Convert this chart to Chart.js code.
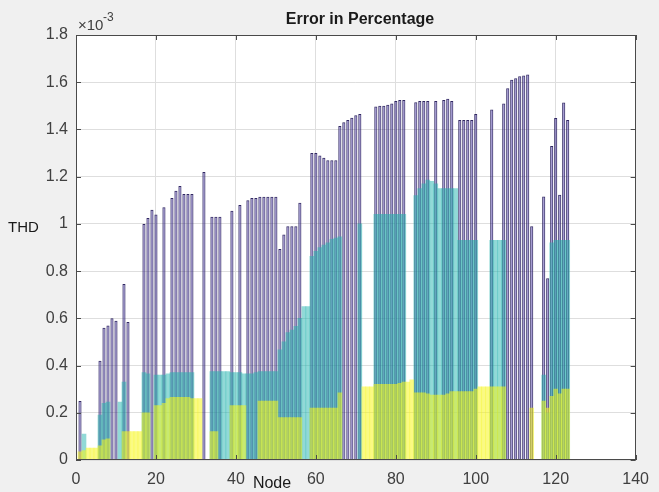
<!DOCTYPE html>
<html lang="en">
<head>
<meta charset="UTF-8">
<title>Error in Percentage</title>
<script src="https://cdn.jsdelivr.net/npm/chart.js"></script>
<style>
  html, body { margin: 0; padding: 0; background: #f0f0f0; }
  canvas { display: block; }
</style>
</head>
<body>
<canvas id="grafico" width="659" height="492"></canvas>
<script>
    // THD values per node, x 1e-3 (0 = no bar for that phase)
    var purple = [
        0.25, 0, 0, 0, 0, 0.42, 0.56, 0.57, 0.60, 0.59,
        0, 0.745, 0.585, 0, 0, 0, 1.00, 1.025, 1.06, 1.04,
        0, 1.07, 0, 1.11, 1.14, 1.16, 1.127, 1.127, 1.127, 0,
        0, 1.22, 0, 1.03, 1.03, 1.03, 0, 0, 1.056, 0,
        1.08, 0, 1.10, 1.11, 1.11, 1.115, 1.115, 1.115, 1.115, 1.115,
        0.894, 0.955, 0.99, 0.99, 0.99, 1.09, 0, 0, 1.30, 1.30,
        1.29, 1.28, 1.27, 1.27, 1.27, 1.415, 1.43, 1.44, 1.45, 1.46,
        1.465, 0, 0, 0, 1.497, 1.50, 1.50, 1.505, 1.51, 1.52,
        1.525, 1.525, 0, 0, 1.515, 1.52, 1.52, 1.52, 0, 1.52,
        0, 1.525, 1.53, 1.52, 0, 1.44, 1.44, 1.44, 1.44, 1.465,
        0, 0, 0, 1.485, 0, 0, 1.51, 1.575, 1.61, 1.617,
        1.625, 1.628, 1.633, 0.99, 0, 0, 1.116, 0.77, 1.33, 1.448,
        1.123, 1.514, 1.44
    ];
    var teal = [
        0, 0.11, 0, 0, 0, 0.19, 0.24, 0.245, 0, 0,
        0.245, 0.33, 0, 0, 0, 0, 0.37, 0.365, 0, 0.36,
        0.36, 0.36, 0.365, 0.37, 0.37, 0.37, 0.37, 0.37, 0.37, 0,
        0, 0, 0, 0.375, 0.375, 0.375, 0.375, 0.375, 0.37, 0.37,
        0.37, 0.365, 0.365, 0.365, 0.37, 0.375, 0.375, 0.375, 0.375, 0.375,
        0.467, 0.50, 0.54, 0.55, 0.566, 0.60, 0.65, 0.65, 0.863, 0.884,
        0.90, 0.91, 0.92, 0.935, 0.94, 0.945, 0, 0, 0, 0,
        1.00, 0, 0, 0, 1.04, 1.04, 1.04, 1.04, 1.04, 1.04,
        1.04, 1.04, 0, 0, 1.12, 1.15, 1.17, 1.186, 1.18, 1.17,
        1.15, 1.15, 1.15, 1.15, 1.15, 0.93, 0.93, 0.93, 0.93, 0.93,
        0, 0, 0, 0.93, 0.93, 0.93, 0.93, 0, 0, 0,
        0, 0, 0, 0, 0, 0, 0.36, 0.20, 0.92, 0.93,
        0.93, 0.93, 0.93
    ];
    var yellow = [
        0.035, 0.04, 0.05, 0.05, 0.05, 0.06, 0.085, 0.09, 0, 0,
        0, 0.12, 0.12, 0.12, 0.12, 0.12, 0.20, 0.20, 0, 0.23,
        0.23, 0.24, 0.26, 0.265, 0.265, 0.265, 0.265, 0.265, 0.26, 0.26,
        0.26, 0, 0, 0.12, 0.12, 0, 0, 0, 0.23, 0.23,
        0.23, 0.23, 0, 0, 0, 0.25, 0.25, 0.25, 0.25, 0.25,
        0.18, 0.18, 0.18, 0.18, 0.18, 0.18, 0, 0, 0.22, 0.22,
        0.22, 0.22, 0.22, 0.22, 0.22, 0.285, 0, 0, 0, 0,
        0, 0.31, 0.31, 0.31, 0.32, 0.32, 0.32, 0.32, 0.32, 0.32,
        0.325, 0.33, 0.33, 0.34, 0.285, 0.285, 0.285, 0.28, 0.275, 0.275,
        0.275, 0.275, 0.28, 0.29, 0.29, 0.29, 0.29, 0.29, 0.29, 0.30,
        0.31, 0.31, 0.31, 0.31, 0.31, 0.31, 0.31, 0, 0, 0,
        0, 0, 0, 0.22, 0, 0, 0.25, 0.22, 0.27, 0.30,
        0.28, 0.30, 0.30
    ];
    var nodes = purple.map(function (v, i) { return i + 1; });
    var xTicks = [0, 20, 40, 60, 80, 100, 120, 140];
    var yTicks = [0, 0.2, 0.4, 0.6, 0.8, 1, 1.2, 1.4, 1.6, 1.8];

    var fonte = '"Liberation Sans", Arial, sans-serif';

    function pontos(serie) {
        return serie.map(function (v, i) {
            return { x: nodes[i], y: v > 0 ? v : null };
        });
    }

    // white plot area, box, inward ticks and the MATLAB-style labels
    var moldura = {
        id: 'moldura',
        beforeDraw: function (chart) {
            var ctx = chart.ctx, a = chart.chartArea;
            ctx.save();
            ctx.fillStyle = '#ffffff';
            ctx.fillRect(a.left, a.top, a.right - a.left, a.bottom - a.top);
            ctx.restore();
        },
        afterDraw: function (chart) {
            var ctx = chart.ctx, a = chart.chartArea;
            var sx = chart.scales.x, sy = chart.scales.y;
            ctx.save();
            ctx.strokeStyle = '#4a4a4a';
            ctx.lineWidth = 1;
            ctx.beginPath();
            xTicks.forEach(function (t) {
                var px = Math.round(sx.getPixelForValue(t)) + 0.5;
                ctx.moveTo(px, a.bottom); ctx.lineTo(px, a.bottom - 5);
                ctx.moveTo(px, a.top); ctx.lineTo(px, a.top + 5);
            });
            yTicks.forEach(function (t) {
                var py = Math.round(sy.getPixelForValue(t)) + 0.5;
                ctx.moveTo(a.left, py); ctx.lineTo(a.left + 5, py);
                ctx.moveTo(a.right, py); ctx.lineTo(a.right - 5, py);
            });
            ctx.stroke();
            ctx.strokeRect(Math.round(a.left) + 0.5, Math.round(a.top) + 0.5,
                Math.round(a.right - a.left) - 1, Math.round(a.bottom - a.top) - 1);

            ctx.fillStyle = '#1a1a1a';
            ctx.textAlign = 'center';
            ctx.textBaseline = 'middle';
            ctx.font = 'bold 16px ' + fonte;
            ctx.fillText('Error in Percentage', 360, 20);

            ctx.fillStyle = '#404040';
            ctx.textAlign = 'left';
            ctx.font = '15px ' + fonte;
            ctx.fillText('\u00d710', 78, 26);
            ctx.font = '12px ' + fonte;
            ctx.fillText('-3', 103, 18);

            ctx.fillStyle = '#1a1a1a';
            ctx.font = '15px ' + fonte;
            ctx.fillText('THD', 8, 228);
            ctx.textAlign = 'center';
            ctx.font = '16px ' + fonte;
            ctx.fillText('Node', 272, 484);
            ctx.restore();
        }
    };

    var config = {
        type: 'bar',
        data: {
            datasets: [
                {
                    label: 'Phase A',
                    data: pontos(purple),
                    backgroundColor: 'rgba(70, 50, 175, 0.45)',
                    borderColor: 'rgba(38, 28, 90, 0.95)',
                    borderWidth: 1,
                    barPercentage: 0.78,
                    order: 3
                },
                {
                    label: 'Phase B',
                    data: pontos(teal),
                    backgroundColor: 'rgba(35, 180, 175, 0.5)',
                    borderWidth: 0,
                    barPercentage: 1.0,
                    order: 2
                },
                {
                    label: 'Phase C',
                    data: pontos(yellow),
                    backgroundColor: 'rgba(245, 245, 30, 0.55)',
                    borderWidth: 0,
                    barPercentage: 1.0,
                    order: 1
                }
            ]
        },
        options: {
            responsive: false,
            animation: false,
            grouped: false,
            categoryPercentage: 1.0,
            layout: { padding: { top: 35, right: 11, left: 0, bottom: 0 } },
            plugins: {
                legend: { display: false },
                tooltip: { enabled: false }
            },
            scales: {
                x: {
                    type: 'linear',
                    min: 0,
                    max: 140,
                    offset: false,
                    afterBuildTicks: function (s) {
                        s.ticks = xTicks.map(function (v) { return { value: v }; });
                    },
                    afterFit: function (s) { s.height = 32; },
                    grid: { color: '#dedede', drawTicks: false, offset: false },
                    border: { display: false },
                    ticks: {
                        padding: 10,
                        maxRotation: 0,
                        color: '#404040',
                        font: { family: fonte, size: 16 }
                    }
                },
                y: {
                    min: 0,
                    max: 1.8,
                    afterBuildTicks: function (s) {
                        s.ticks = yTicks.map(function (v) { return { value: v }; });
                    },
                    afterFit: function (s) { s.width = 76; },
                    grid: { color: '#dedede', drawTicks: false },
                    border: { display: false },
                    ticks: {
                        padding: 8,
                        color: '#404040',
                        font: { family: fonte, size: 16 },
                        callback: function (v) { return String(Math.round(v * 10) / 10); }
                    }
                }
            }
        },
        plugins: [moldura]
    };

    var grafico = new Chart(document.getElementById('grafico'), config);
</script>
</body>
</html>
